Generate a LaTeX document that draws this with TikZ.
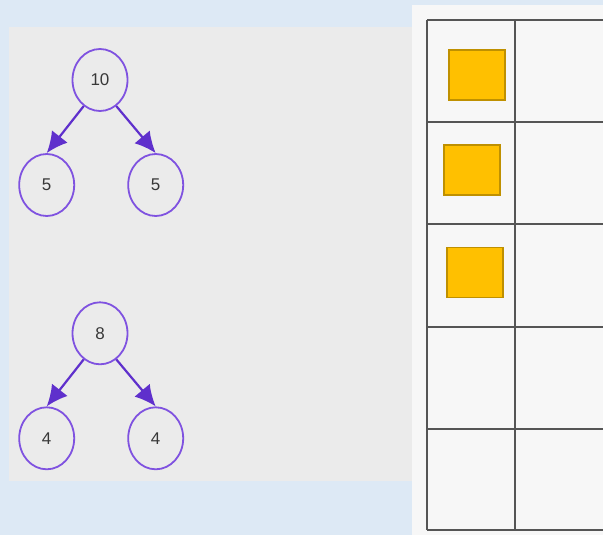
\documentclass[tikz,border=0pt]{standalone}
\usepackage{fontspec}
\setsansfont{Liberation Sans}
\usetikzlibrary{arrows.meta,shapes.geometric}
\definecolor{pageblue}{HTML}{DDE9F5}
\definecolor{panelgrey}{HTML}{EBEBEB}
\definecolor{panelwhite}{HTML}{F7F7F7}
\definecolor{treepurple}{HTML}{7F52E0}
\definecolor{arrowpurple}{HTML}{5F30CC}
\definecolor{boxyellow}{HTML}{FFC000}
\definecolor{boxedge}{HTML}{BF9000}
\definecolor{gridgrey}{HTML}{555555}

\tikzset{
	treenode/.style={ellipse, draw=treepurple, line width=0.9pt, fill=panelgrey,
		minimum width=27.5pt, minimum height=31pt, inner sep=0pt,
		font=\sffamily\fontsize{8.5}{10}\selectfont, text=black!78},
	treeedge/.style={->, draw=arrowpurple, fill=arrowpurple, line width=1.1pt},
	yellowbox/.style={rectangle, draw=boxedge, fill=boxyellow, line width=0.9pt,
		minimum width=28pt, minimum height=25pt, inner sep=0pt},
	gridline/.style={draw=gridgrey, line width=1.2pt}
}

\begin{document}
\begin{tikzpicture}[>={Latex[length=10.5pt,width=10pt]}, x=0.5pt, y=-0.5pt]
	% panels
	\fill[pageblue] (0,0) rectangle (603,535);
	\useasboundingbox (0,0) rectangle (603,535);
	\fill[panelgrey] (9,27) rectangle (412,481);
	\fill[panelwhite] (412,5) rectangle (603,535);

	% first tree
	\node[treenode] (ten) at (100,80) {10};
	\node[treenode] (fiveleft) at (46.7,185) {5};
	\node[treenode] (fiveright) at (155.7,185) {5};
	\draw[treeedge] (ten.-122) -> (fiveleft.north);
	\draw[treeedge] (ten.-58) -> (fiveright.north);

	% second tree
	\node[treenode] (eight) at (100,333.3) {8};
	\node[treenode] (fourleft) at (46.7,438.3) {4};
	\node[treenode] (fourright) at (155.7,438.3) {4};
	\draw[treeedge] (eight.-122) -> (fourleft.north);
	\draw[treeedge] (eight.-58) -> (fourright.north);

	% table
	\foreach \ypos in {20,122,224,327,429,530}
		\draw[gridline] (427,\ypos) -- (603,\ypos);
	\foreach \xpos in {427,515}
		\draw[gridline] (\xpos,20) -- (\xpos,530);

	% blocks in first column
	\node[yellowbox] (blocka) at (477,75) {};
	\node[yellowbox] (blockb) at (472,170) {};
	\node[yellowbox] (blockc) at (474.7,272.5) {};
\end{tikzpicture}
\end{document}
